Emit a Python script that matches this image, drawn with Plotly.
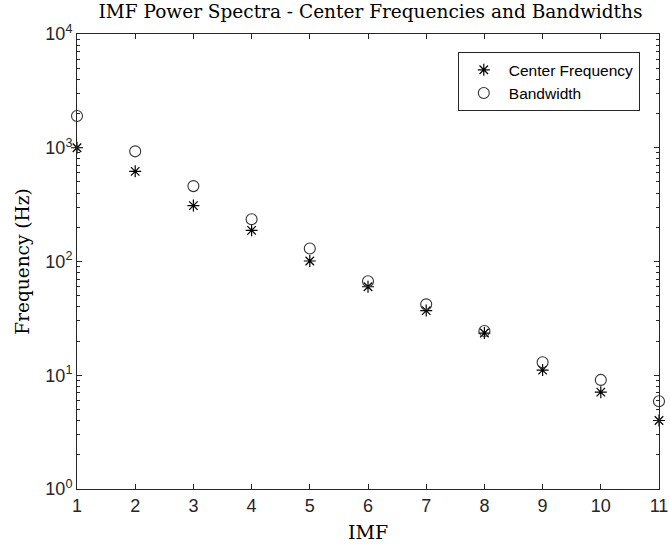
import plotly.graph_objects as go

imf = [1, 2, 3, 4, 5, 6, 7, 8, 9, 10, 11]
center_freq = [1000, 620, 310, 188, 101, 60, 37, 23.5, 11.1, 7.1, 4.0]
bandwidth = [1900, 930, 460, 235, 130, 67, 42, 24.5, 13, 9.1, 5.9]

ytick_vals = [1, 10, 100, 1000, 10000]
ytick_text = ["10<sup>0</sup>", "10<sup>1</sup>", "10<sup>2</sup>", "10<sup>3</sup>", "10<sup>4</sup>"]
yminor_vals = [m * 10 ** e for e in range(4) for m in range(2, 10)]

fig = go.Figure()
fig.add_trace(go.Scatter(
    x=imf, y=center_freq, mode="markers", name="Center Frequency",
    marker=dict(symbol="asterisk-open", size=10, color="black", line=dict(color="black", width=1.2)),
    cliponaxis=False,
))
fig.add_trace(go.Scatter(
    x=imf, y=bandwidth, mode="markers", name="Bandwidth",
    marker=dict(symbol="circle-open", size=11, color="#333333", line=dict(color="#333333", width=1.1)),
    cliponaxis=False,
))

serif = "DejaVu Serif, Liberation Serif"
sans = "Liberation Sans, Arial"

axis_common = dict(
    showline=True, linecolor="#262626", linewidth=1, mirror="allticks",
    ticks="inside", tickcolor="#262626", ticklen=5, showgrid=False, zeroline=False,
    tickfont=dict(family=sans, size=18, color="#262626"), automargin=False,
)

fig.update_layout(
    width=670, height=546,
    margin=dict(l=77, r=11, t=34, b=57),
    paper_bgcolor="white", plot_bgcolor="white",
    title=dict(text="IMF Power Spectra - Center Frequencies and Bandwidths",
               font=dict(family=serif, size=18.5, color="black"),
               x=0.553, xanchor="center", y=0.978, yanchor="middle"),
    xaxis=dict(range=[1, 11], tickvals=imf, title=dict(text="IMF", standoff=11,
               font=dict(family=serif, size=19, color="black")), **axis_common),
    yaxis=dict(type="log", range=[0, 4], tickmode="array", tickvals=ytick_vals, ticktext=ytick_text,
               minor=dict(tickmode="array", ticks="inside", ticklen=3, tickcolor="#262626", tickwidth=1,
                          tickvals=yminor_vals, showgrid=False),
               title=dict(text="Frequency (Hz)", standoff=10,
               font=dict(family=serif, size=18.5, color="black")), **axis_common),
    legend=dict(x=0.967, y=0.96, xanchor="right", yanchor="top",
                bordercolor="#262626", borderwidth=1, bgcolor="white",
                font=dict(family=sans, size=15.5, color="black"),
                itemwidth=40, tracegroupgap=0),
    showlegend=True,
)

fig.write_html("out.html")
